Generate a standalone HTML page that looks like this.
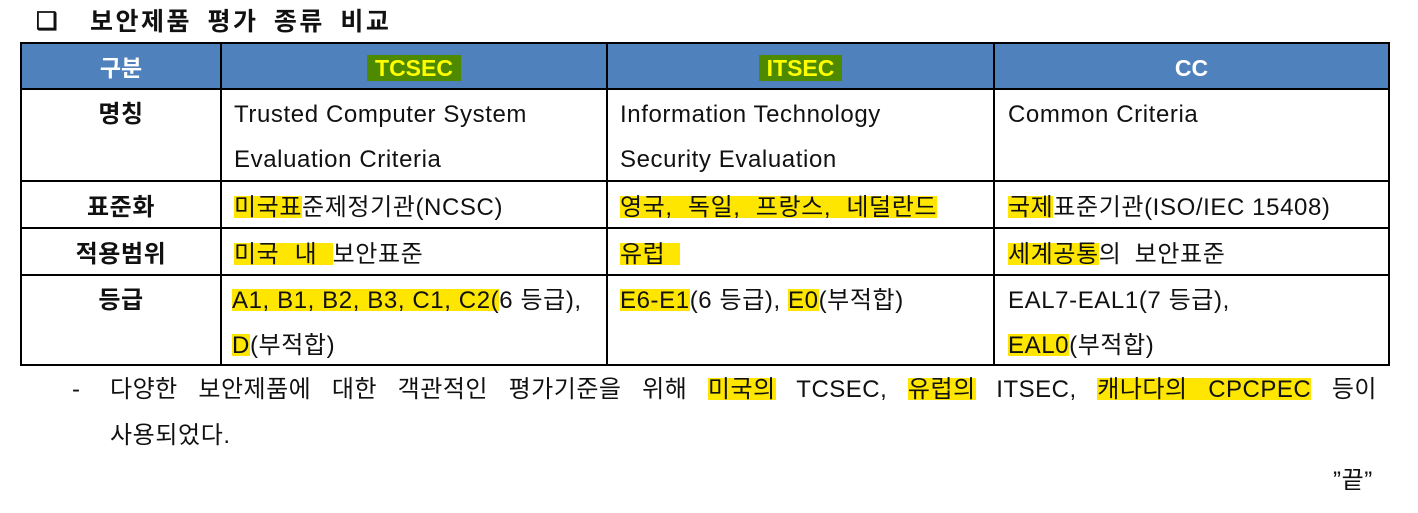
<!DOCTYPE html>
<html><head><meta charset="utf-8"><style>
body{margin:0;width:1418px;height:513px;background:#fff;position:relative;overflow:hidden;font-family:"Liberation Sans","Noto Sans CJK KR",sans-serif;color:#111}
.a{position:absolute;white-space:nowrap}
.t{font-size:24px;line-height:24px;letter-spacing:0.6px}
.b{font-weight:bold}
.c{text-align:center}
.h{color:#fff;font-weight:bold;font-size:23px;line-height:24px}
.ln{position:absolute;background:#000}
.y{background:linear-gradient(to bottom,transparent 0,transparent 8%,#ffe600 8%,#ffe600 88%,transparent 88%)}
.g{background:#4e8a00;color:#ffff00;padding:0 8px}
</style></head><body>
<div class="a b" style="left:36px;top:8px;font-size:24px;line-height:28px">❑</div>
<div class="a b" style="left:90px;top:8px;font-size:25px;line-height:28px;letter-spacing:2.5px;word-spacing:6px">보안제품 평가 종류 비교</div>

<div style="position:absolute;left:21px;top:43px;width:1368px;height:46px;background:#4f81bd"></div>

<div class="ln" style="left:20px;top:42px;width:1370px;height:2px"></div>
<div class="ln" style="left:20px;top:88px;width:1370px;height:2px"></div>
<div class="ln" style="left:20px;top:180px;width:1370px;height:2px"></div>
<div class="ln" style="left:20px;top:227px;width:1370px;height:2px"></div>
<div class="ln" style="left:20px;top:274px;width:1370px;height:2px"></div>
<div class="ln" style="left:20px;top:364px;width:1370px;height:2px"></div>
<div class="ln" style="left:20px;top:42px;width:2px;height:324px"></div>
<div class="ln" style="left:220px;top:42px;width:2px;height:324px"></div>
<div class="ln" style="left:606px;top:42px;width:2px;height:324px"></div>
<div class="ln" style="left:993px;top:42px;width:2px;height:324px"></div>
<div class="ln" style="left:1388px;top:42px;width:2px;height:324px"></div>

<div class="a h c" style="left:21px;width:200px;top:56px">구분</div>
<div class="a h c" style="left:221px;width:386px;top:56px"><span class="g">TCSEC</span></div>
<div class="a h c" style="left:607px;width:387px;top:56px"><span class="g">ITSEC</span></div>
<div class="a h c" style="left:994px;width:395px;top:56px">CC</div>

<div class="a t b c" style="left:21px;width:200px;top:103px">명칭</div>
<div class="a t b c" style="left:21px;width:200px;top:196px">표준화</div>
<div class="a t b c" style="left:21px;width:200px;top:243px">적용범위</div>
<div class="a t b c" style="left:21px;width:200px;top:289px">등급</div>

<div class="a t" style="left:234px;top:103px">Trusted Computer System</div>
<div class="a t" style="left:234px;top:148px">Evaluation Criteria</div>
<div class="a t" style="left:620px;top:103px">Information Technology</div>
<div class="a t" style="left:620px;top:148px">Security Evaluation</div>
<div class="a t" style="left:1008px;top:103px">Common Criteria</div>

<div class="a t" style="left:234px;top:196px"><span class="y">미국표</span>준제정기관(NCSC)</div>
<div class="a t" style="left:620px;top:196px;word-spacing:8px"><span class="y">영국, 독일, 프랑스, 네덜란드</span></div>
<div class="a t" style="left:1008px;top:196px"><span class="y">국제</span>표준기관(ISO/IEC 15408)</div>

<div class="a t" style="left:234px;top:243px;word-spacing:8px"><span class="y">미국 내&nbsp;</span>보안표준</div>
<div class="a t" style="left:620px;top:243px"><span class="y">유럽&nbsp;&nbsp;</span></div>
<div class="a t" style="left:1008px;top:243px;word-spacing:6px"><span class="y">세계공통</span>의 보안표준</div>

<div class="a t" style="left:232px;top:289px"><span class="y">A1, B1, B2, B3, C1, C2(</span>6 등급),</div>
<div class="a t" style="left:232px;top:334px"><span class="y">D</span>(부적합)</div>
<div class="a t" style="left:620px;top:289px"><span class="y">E6-E1</span>(6 등급), <span class="y">E0</span>(부적합)</div>
<div class="a t" style="left:1008px;top:289px">EAL7-EAL1(7 등급),</div>
<div class="a t" style="left:1008px;top:334px"><span class="y">EAL0</span>(부적합)</div>

<div class="a t" style="left:72px;top:378px">-</div>
<div class="t" style="position:absolute;left:110px;top:378px;width:1267px;text-align:justify;text-align-last:justify;white-space:nowrap;letter-spacing:0.5px">다양한 보안제품에 대한 객관적인 평가기준을 위해 <span class="y">미국의</span> TCSEC, <span class="y">유럽의</span> ITSEC, <span class="y">캐나다의 CPCPEC</span> 등이</div>
<div class="a t" style="left:110px;top:424px">사용되었다.</div>
<div class="a t" style="left:1333px;top:469px">”끝”</div>
</body></html>
